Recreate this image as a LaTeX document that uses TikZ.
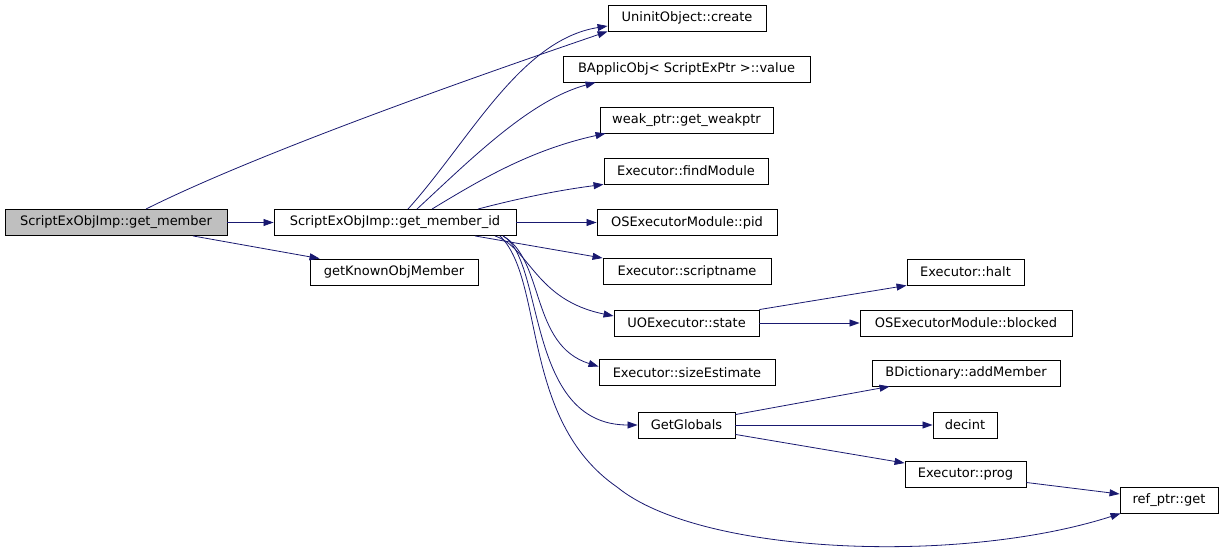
\documentclass[tikz,border=0pt]{standalone}
\usepackage{fontspec}
\setmainfont{DejaVu Sans}
\usepackage{tikz}
\usetikzlibrary{arrows.meta,calc}
\definecolor{callgraphedge}{HTML}{191970}
\definecolor{callgraphroot}{HTML}{BFBFBF}

\begin{document}
\begin{tikzpicture}[
  x=1pt, y=-1pt,
  font=\fontsize{13}{15}\selectfont,
  box/.style={draw=black, line width=0.9pt, minimum height=26pt,
              inner sep=0pt, fill=white},
  root/.style={box, fill=callgraphroot},
  arrow/.style={-{Triangle[length=10pt,width=7pt]}, line width=0.8pt, draw=callgraphedge}
]
\useasboundingbox (0,0) rectangle (1224,553);

\node[root, minimum width=222pt] (member) at (116,222.5) {ScriptExObjImp::get\_member};
\node[box, minimum width=242pt] (memberid) at (395,222.5) {ScriptExObjImp::get\_member\_id};
\node[box, minimum width=168pt] (known) at (394,272) {getKnownObjMember};
\node[box, minimum width=158pt] (create) at (687,18) {UninitObject::create};
\node[box, minimum width=247pt] (applic) at (686.5,69) {BApplicObj< ScriptExPtr >::value};
\node[box, minimum width=173pt] (weak) at (686.5,120) {weak\_ptr::get\_weakptr};
\node[box, minimum width=164pt] (findmod) at (686,171) {Executor::findModule};
\node[box, minimum width=180pt] (pid) at (687,222.5) {OSExecutorModule::pid};
\node[box, minimum width=168pt] (scriptname) at (687,271.5) {Executor::scriptname};
\node[box, minimum width=145pt] (state) at (686.5,323) {UOExecutor::state};
\node[box, minimum width=176pt] (sizeest) at (687,372.5) {Executor::sizeEstimate};
\node[box, minimum width=97pt] (globals) at (686.5,425) {GetGlobals};
\node[box, minimum width=117pt] (halt) at (965.5,272) {Executor::halt};
\node[box, minimum width=212pt] (blocked) at (966,323) {OSExecutorModule::blocked};
\node[box, minimum width=188pt] (addmember) at (966,373) {BDictionary::addMember};
\node[box, minimum width=64pt] (decint) at (965,425) {decint};
\node[box, minimum width=121pt] (prog) at (965.5,474.5) {Executor::prog};
\node[box, minimum width=98pt] (refget) at (1169,500) {ref\_ptr::get};
\coordinate (refbend) at (617,487);

\draw[arrow] (member.east) -- (memberid.west);
\draw[arrow] ($(member.north)+(30,0)$) .. controls (260,152) and (480,75) .. (create.south west);
\draw[arrow] ($(member.south)+(77,0)$) -- ($(known.north west)+(10,0)$);

\draw[arrow] ($(memberid.north)+(13,0)$) .. controls (470,140) and (520,40) .. ($(create.west)+(0,8)$);
\draw[arrow] ($(memberid.north)+(22,0)$) .. controls (470,160) and (530,100) .. ($(applic.south west)+(33,0)$);
\draw[arrow] ($(memberid.north)+(37,0)$) .. controls (480,180) and (530,150) .. ($(weak.south west)+(6,0)$);
\draw[arrow] ($(memberid.north)+(83,0)$) .. controls (520,198) and (560,190) .. (findmod.south west);
\draw[arrow] (memberid.east) -- (pid.west);
\draw[arrow] ($(memberid.south)+(80,0)$) -- (scriptname.north west);
\draw[arrow] ($(memberid.south)+(100,0)$) .. controls (530,248) and (535,300) .. ($(state.west)+(0,-7)$);
\draw[arrow] ($(memberid.south)+(108,0)$) .. controls (545,260) and (530,345) .. ($(sizeest.west)+(0,-6)$);
\draw[arrow] ($(memberid.south)+(108,0)$) .. controls (545,260) and (525,425) .. (globals.west);
\draw[arrow] ($(memberid.south)+(105,0)$) .. controls (545,280) and (520,420) .. (refbend)
  .. controls (700,555) and (960,565) .. ($(refget.south west)+(1,0)$);

\draw[arrow] (state.north east) -- (halt.south west);
\draw[arrow] (state.east) -- (blocked.west);
\draw[arrow] ($(globals.north east)+(0,3)$) -- ($(addmember.south west)+(18,0)$);
\draw[arrow] (globals.east) -- (decint.west);
\draw[arrow] ($(globals.south east)+(0,-4)$) -- ($(prog.north west)+(0,2)$);
\draw[arrow] ($(prog.east)+(0,8)$) -- ($(refget.west)+(0,-6)$);
\end{tikzpicture}
\end{document}
